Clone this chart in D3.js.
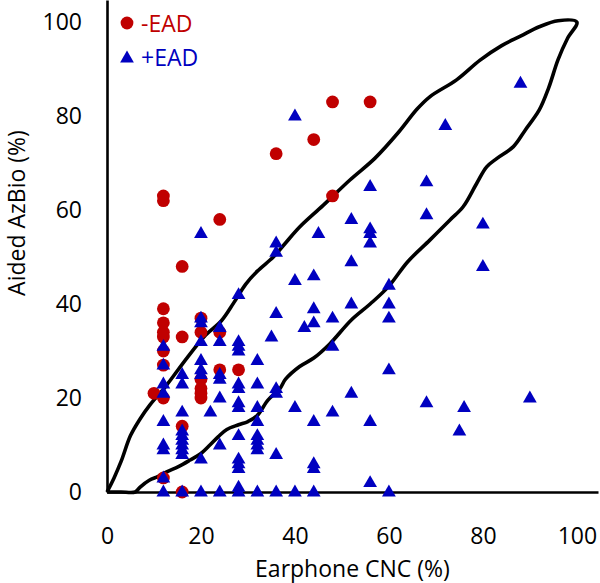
<!DOCTYPE html>
<html><head><meta charset="utf-8">
<script src="https://cdn.jsdelivr.net/npm/d3@7"></script>
<style>body{margin:0;background:#fff}svg{display:block}text{font-family:"Open Sans",sans-serif}</style>
</head><body><div id="chart"></div>
<script>
// -EAD (red circles): [Earphone CNC %, Aided AzBio %]
const redX = [48,56,44,36,48,12,12,24,16,12,12,12,12,12,12,12,12,10,16,16,16,20,20,20,20,20,20,24,24,28];
const redY = [83,83,75,72,63,63,62,58,48,39,36,34,33,30,27,20,3,21,33,14,0,37,34,24,22,21,20,34,26,26];
// +EAD (blue triangles)
const blueX = [88,72,40,68,68,80,80,90,76,75,68,
  56,52,56,56,56,45,52,40,44,60,60,60,52,44,44,48,42,48,60,52,40,48,44,56,44,44,56,40,44,60,
  36,36,36,35,36,36,36,36,
  32,32,32,32,32,32,32,32,32,
  28,28,28,28,28,28,28,28,28,28,28,28,28,28,
  24,24,24,24,24,24,24,22,
  20,20,20,20,20,20,20,20,20,
  16,16,16,16,16,16,16,16,16,16,
  12,12,12,12,12,12,12,12,12];
const blueY = [87,78,80,66,59,57,48,20,18,13,19,
  65,58,56,55,53,55,49,45,46,44,40,37,40,39,36,37,35,31,26,21,18,17,15,15,6,5,2,0,0,0,
  53,51,38,33,22,21,8,0,
  28,23,18,15,12,11,10,9,0,
  42,32,31,30,23,22,19,18,12,7,6,5,1,0,
  35,32,25,24,20,10,0,17,
  55,37,36,32,28,26,25,7,0,
  25,23,17,13,12,11,10,9,8,0,
  31,27,23,21,15,10,9,3,0];
// boundary region (upper edge then lower edge)
const boundX = [0,1.5,3,5,7,9.1,12.5,17,21,24.4,27,29.5,32,35.4,38,41,46,51.7,57,62,66,68.7,74.4,79.4,84,88,92,96,100,
  98,96,94,92,89,86.5,83,80.8,78.7,75.8,73,68.7,64,59.9,56,52,47.4,44,41,38,36.8,34.3,31.9,30,28,25.5,23.7,21.9,20,17.7,15.2,12.7,10.9,9,7,6,3,0];
const boundY = [0,3,6.5,12,15.5,18.5,22.5,28.5,33.4,36.5,40.3,44.2,47,50,53,56.4,61,66.4,71,76.5,81.5,84.1,87.7,91.9,95,97,99,100.3,100,
  96.5,92,86,81.3,77,73.5,71,69.2,65.7,60.7,57.9,53.6,49,43.7,40,36.6,31.5,28.5,26.7,24,22,19.6,16.2,15,14.3,13.3,11.8,10,8.2,6.8,5.4,4.3,3.3,2.5,1,0,0,0];
const xTicks = [0,20,40,60,80,100];
const yTicks = [0,20,40,60,80,100];
const legendLabels = ["-EAD","+EAD"];
const xTitle = "Earphone CNC (%)";
const yTitle = "Aided AzBio (%)";

const W = 600, H = 583;
const RED = "#c00000", BLUE = "#0000c0";
const svg = d3.select("#chart").append("svg").attr("width", W).attr("height", H);
const x = d3.scaleLinear().domain([0, 104.5]).range([107, 598]);
const y = d3.scaleLinear().domain([0, 104.7]).range([492, 0]);

// axes
const gx = svg.append("g").attr("transform", `translate(0,${y(0)})`)
  .call(d3.axisBottom(x).tickValues(xTicks).tickSize(0).tickSizeOuter(0).tickPadding(36));
gx.select(".domain").attr("stroke", "#000").attr("stroke-width", 2.6);
gx.selectAll("text").attr("font-size", 23).attr("fill", "#000").attr("font-family", "Open Sans");
const gy = svg.append("g").attr("transform", `translate(${x(0)},0)`)
  .call(d3.axisLeft(y).tickValues(yTicks).tickSize(0).tickSizeOuter(0).tickPadding(25));
gy.select(".domain").attr("stroke", "#000").attr("stroke-width", 2.6);
gy.selectAll("text").attr("font-size", 23).attr("fill", "#000").attr("font-family", "Open Sans");

// titles
svg.append("text").attr("x", 352.5).attr("y", 577).attr("text-anchor", "middle")
  .attr("font-size", 23).attr("fill", "#000").text(xTitle);
svg.append("text").attr("transform", "translate(25,213) rotate(-90)").attr("text-anchor", "middle")
  .attr("font-size", 23).attr("fill", "#000").text(yTitle);

// boundary
const pts = boundX.map((v, i) => [x(v), y(boundY[i])]);
svg.append("path").attr("d", d3.line().curve(d3.curveCatmullRom.alpha(0.5))(pts))
  .attr("fill", "none").attr("stroke", "#000").attr("stroke-width", 3.6).attr("stroke-linejoin", "round");

// markers
svg.append("g").selectAll("circle").data(redX.map((v, i) => [v, redY[i]])).join("circle")
  .attr("cx", d => x(d[0])).attr("cy", d => y(d[1])).attr("r", 6.4).attr("fill", RED);
const tri = d3.symbol().type(d3.symbolTriangle).size(82);
svg.append("g").selectAll("path").data(blueX.map((v, i) => [v, blueY[i]])).join("path")
  .attr("transform", d => `translate(${x(d[0])},${y(d[1]) + 0.5})`).attr("d", tri).attr("fill", BLUE);

// legend
const lg = svg.append("g");
lg.append("circle").attr("cx", 127).attr("cy", 23).attr("r", 6.4).attr("fill", RED);
lg.append("path").attr("transform", "translate(127,58.5)").attr("d", tri).attr("fill", BLUE);
lg.append("text").attr("x", 141).attr("y", 31.5).attr("font-size", 23).attr("fill", RED).text(legendLabels[0]);
lg.append("text").attr("x", 141).attr("y", 65.5).attr("font-size", 23).attr("fill", BLUE).text(legendLabels[1]);
</script></body></html>
